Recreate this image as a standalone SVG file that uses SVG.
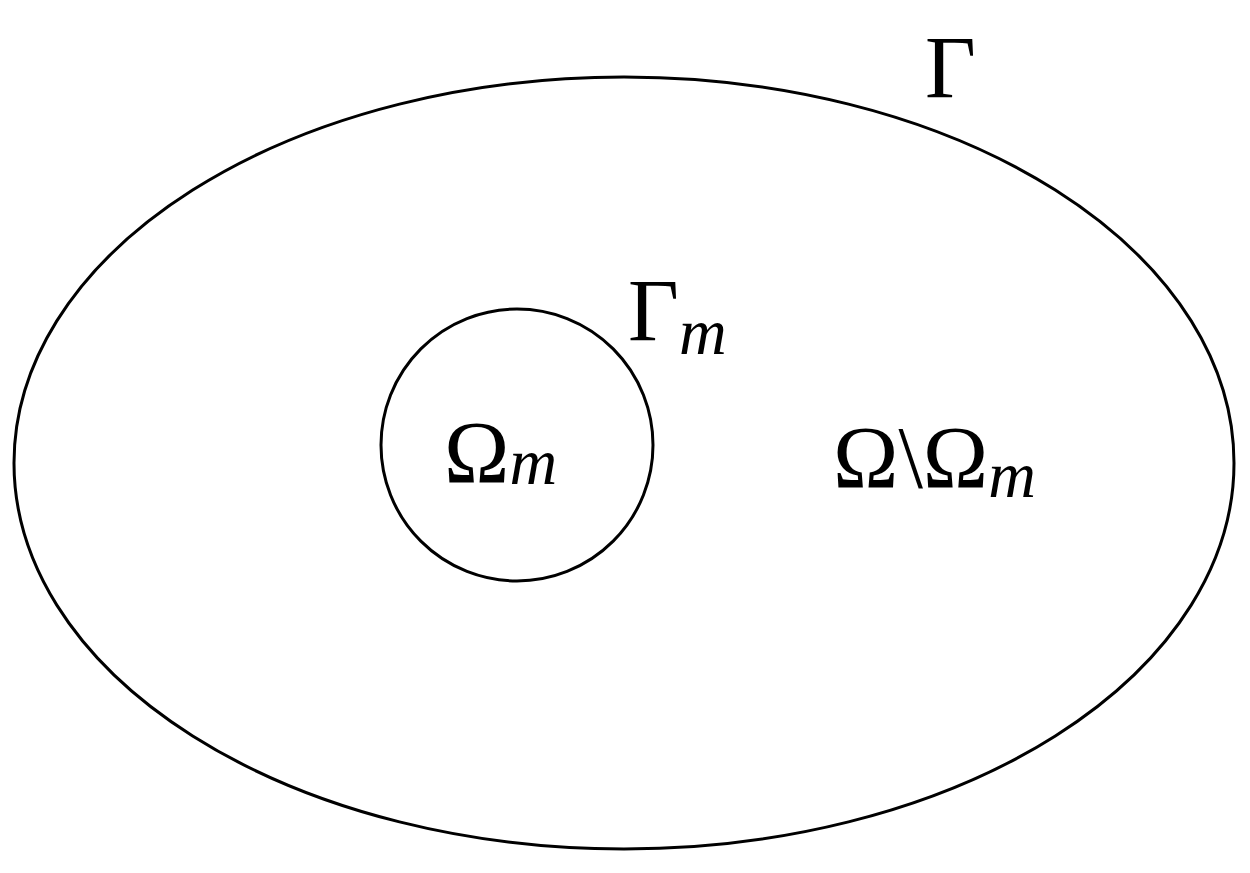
<svg xmlns="http://www.w3.org/2000/svg" width="1250" height="873" viewBox="0 0 1250 873">
<style>
.s{fill:none;stroke:#000;stroke-width:3}
.t{font-family:"Liberation Serif",serif;fill:#000}
.i{font-style:italic}
</style>
<rect width="1250" height="873" fill="#fff"/>
<g id="outer"><ellipse class="s" cx="624" cy="463" rx="610" ry="386"/></g>
<g id="inner"><circle class="s" cx="517" cy="445" r="136"/></g>
<g id="labels">
<text class="t" x="925" y="97" font-size="88">Γ</text>
<text class="t" x="628" y="340" font-size="88">Γ<tspan class="i" font-size="66" dy="14">m</tspan></text>
<text class="t" x="444" y="482" font-size="88">Ω<tspan class="i" font-size="66" dy="2">m</tspan></text>
<text class="t" x="833" y="487" font-size="88">Ω\Ω<tspan class="i" font-size="66" dy="10">m</tspan></text>
</g>
<g id="connectors"/>
</svg>
